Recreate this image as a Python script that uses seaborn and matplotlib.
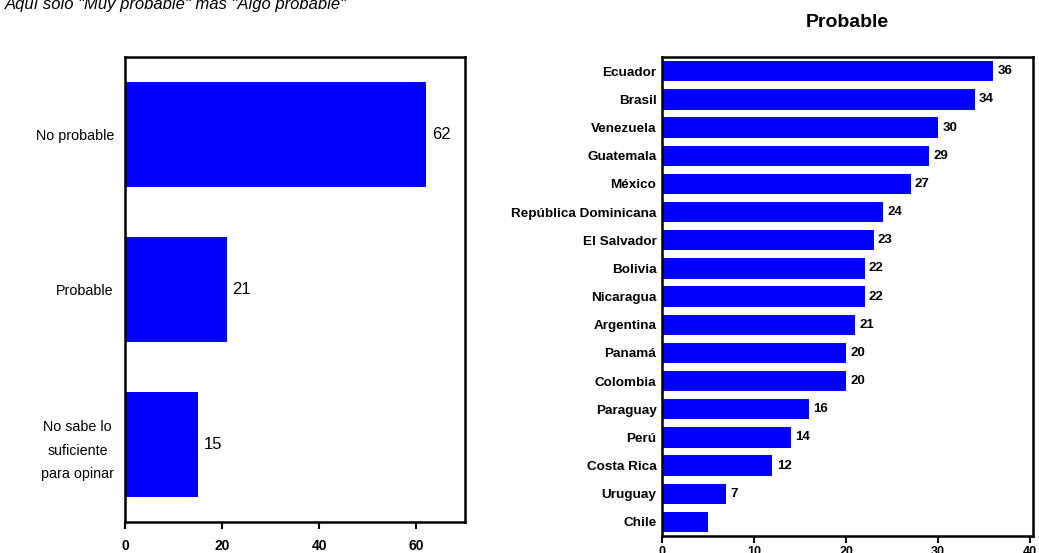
import matplotlib
matplotlib.use("Agg")
import matplotlib.pyplot as plt
import seaborn as sns
import pandas as pd
import numpy as np

sns.set_style("white")
plt.rcParams["font.family"] = ["Liberation Sans", "DejaVu Sans"]
plt.rcParams["text.color"] = "black"
plt.rcParams["xtick.color"] = "black"
plt.rcParams["ytick.color"] = "black"
plt.rcParams["axes.labelcolor"] = "black"

# Overall answers
resp_labels = ["No probable", "Probable", "No sabe lo\nsuficiente\npara opinar"]
resp_values = [62, 21, 15]

# "Probable" by country
countries = ["Ecuador", "Brasil", "Venezuela", "Guatemala", "México",
             "República Dominicana", "El Salvador", "Bolivia", "Nicaragua",
             "Argentina", "Panamá", "Colombia", "Paraguay", "Perú",
             "Costa Rica", "Uruguay", "Chile"]
country_values = [36, 34, 30, 29, 27, 24, 23, 22, 22, 21, 20, 20, 16, 14, 12, 7, 5]
country_labels = [36, 34, 30, 29, 27, 24, 23, 22, 22, 21, 20, 20, 16, 14, 12, 7, None]

BLUE = "#0000FF"

fig = plt.figure(figsize=(10.39, 5.53), dpi=100)
ax1 = fig.add_axes([0.1203, 0.0561, 0.3272, 0.841])
ax2 = fig.add_axes([0.6372, 0.0307, 0.357, 0.866])

df1 = pd.DataFrame({"cat": resp_labels, "val": resp_values})
sns.barplot(data=df1, x="val", y="cat", orient="h", color=BLUE,
            saturation=1, width=0.68, ax=ax1)
df2 = pd.DataFrame({"cat": countries, "val": country_values})
sns.barplot(data=df2, x="val", y="cat", orient="h", color=BLUE,
            saturation=1, width=0.72, ax=ax2)

for ax, n, xmax, ticks in [(ax1, len(resp_labels), 70, [0, 20, 40, 60]),
                           (ax2, len(countries), 40.3, [0, 10, 20, 30, 40])]:
    ax.set_xlim(0, xmax)
    ax.set_ylim(n - 0.5, -0.5)
    ax.set_xticks(ticks)
    ax.set_xlabel("")
    ax.set_ylabel("")
    for s in ax.spines.values():
        s.set_visible(True)
        s.set_color("black")
        s.set_linewidth(1.8)
    ax.tick_params(axis="y", which="major", length=0, pad=6)
    ax.set_yticks(np.arange(0.5, n - 1, 1.0), minor=True)
    ax.tick_params(axis="y", which="minor", length=5, width=1.5,
                   direction="out", color="black")
    ax.tick_params(axis="x", which="major", length=5, width=1.5,
                   direction="out", color="black", bottom=True)
    for b in ax.patches:
        b.set_edgecolor("none")

ax1.tick_params(axis="y", labelsize=10.3, pad=8)
ax1.tick_params(axis="x", labelsize=10, pad=7)
for lbl in ax1.get_yticklabels():
    lbl.set_multialignment("center")
    lbl.set_linespacing(1.85)
    lbl.set_fontweight("medium")
for lbl in ax1.get_xticklabels():
    lbl.set_fontweight("bold")
for i, v in enumerate(resp_values):
    ax1.annotate(f"{v}", (v, i), xytext=(4, 0), textcoords="offset points",
                 va="center", ha="left", fontsize=12)

ax2.tick_params(axis="y", labelsize=9.7, pad=4)
ax2.tick_params(axis="x", labelsize=9, pad=2)
for lbl in ax2.get_yticklabels() + ax2.get_xticklabels():
    lbl.set_fontweight("bold")
for i, v in enumerate(country_labels):
    if v is not None:
        ax2.annotate(f"{v}", (country_values[i], i), xytext=(3, 0),
                     textcoords="offset points", va="center", ha="left",
                     fontsize=9.5, fontweight="bold")

ax2.set_title("Probable", fontsize=14, fontweight="bold", pad=22)

fig.text(5 / 1039, 1 - 9 / 553, 'Aquí solo "Muy probable" más "Algo probable"',
         fontsize=12, style="italic", ha="left", va="baseline")

fig.savefig("out.png", dpi=100)
